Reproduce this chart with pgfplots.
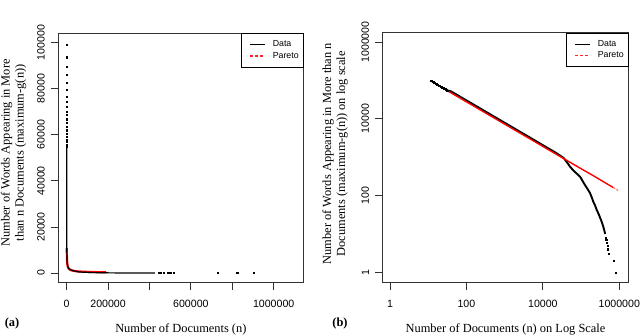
\documentclass[border=0pt]{standalone}
\usepackage{fontspec}
\setmainfont{Liberation Serif}
\setsansfont{Liberation Sans}
\usepackage{pgfplots}
\usepackage{pgfplotstable}
\pgfplotsset{compat=1.18}

% words appearing in more than n documents: first few n as separate dots
\pgfplotstableread{
n y
12 99000
13 93700
14 89600
15 86000
16 82600
17 79500
18 76600
19 74400
20 72200
21 70000
22 68600
23 66800
24 65100
25 63500
26 62000
27 60600
28 59300
29 58050
30 56900
31 55800
32 54700
}\headtbl

% dense part of the data, drawn as a line
\pgfplotstableread{
n y
32 54700
40 51380
50 45110
70 37080
100 30110
150 23790
200 20110
300 15880
500 11780
700 9690
1000 7870
1500 6210
2000 5250
3000 4150
5000 3080
7000 2530
10000 2050
15000 1620
20000 1370
28000 1110
35480 940
44670 692
51290 566
63100 447
79430 363
94190 309
109600 240
125900 189
147900 148
172200 115
190500 89
208900 69
234400 54
257000 42
288400 33
316200 26
350800 20
384600 15
407400 12
426600 10
}\bodytbl

% last isolated points
\pgfplotstableread{
n y
442600 8
455000 7
469900 6
488700 5
500000 4
518800 3
731000 2
824000 1
}\tailtbl

% Pareto fit
\pgfplotstableread{
n y
12 94710
20 70390
50 41330
100 27630
200 18470
500 10850
1000 7252
2000 4848
5000 2847
10000 1903
20000 1272
50000 747
100000 499
200000 337
500000 196
700000 161
}\paretotbl

\pgfplotstableread{
n y
700000 161
950000 135
}\paretoend

\pgfplotstableread{
n y
500 10850
700 8924
1000 7252
1500 5731
2000 4848
3000 3831
5000 2847
7000 2342
10000 1903
15000 1504
20000 1272
30000 1005
50000 747
70000 614
100000 499
150000 395
190000 344
}\paretolin

\definecolor{keyred}{RGB}{255,40,40}

\pgfplotsset{
  rplot/.style={
    scale only axis,
    anchor=south west,
    axis line style={draw=black!80, line width=0.9pt},
    tick align=outside,
    major tick length=7pt,
    xtick pos=bottom, ytick pos=left,
    xminorticks=false, yminorticks=false,
    tick style={black!80, line width=0.9pt},
    tick label style={font=\sffamily\fontsize{10.6}{12}\selectfont, /pgf/number format/assume math mode=true},
    xticklabel shift=6.7pt,
    yticklabel shift=2.7pt,
    yticklabel style={rotate=90, anchor=south},
    label style={font=\fontsize{12.4}{14}\selectfont},
    ylabel style={align=center, anchor=center},
    xlabel style={anchor=center},
    scaled ticks=false,
    legend cell align=left,
    legend style={at={(rel axis cs:1,1)}, anchor=north east, draw=black, line width=1pt,
      fill=white, font=\sffamily\fontsize{8.8}{10}\selectfont,
      inner xsep=3.5pt, inner ysep=6.4pt, row sep=1.7pt, column sep=6.3pt,
      nodes={inner sep=1pt}},
  },
  datakey/.style={legend image code/.code={\path (-4.5pt,0pt);
      \pgfsetstrokecolor{black}\pgfsetlinewidth{0.9pt}\pgfsetdash{}{0pt}%
      \pgfpathmoveto{\pgfpoint{0pt}{0pt}}\pgfpathlineto{\pgfpoint{15pt}{0pt}}%
      \pgfusepath{stroke}}},
  paretokey/.style={legend image code/.code={\path (-4.5pt,0pt);
      \pgfsetstrokecolor{keyred}\pgfsetlinewidth{1.3pt}\pgfsetdash{{3pt}{2pt}}{0pt}%
      \pgfpathmoveto{\pgfpoint{0pt}{0pt}}\pgfpathlineto{\pgfpoint{15pt}{0pt}}%
      \pgfusepath{stroke}}},
  dots/.style={only marks, mark=square*, mark size=0.6pt, black, forget plot},
}

\begin{document}
\begin{tikzpicture}
\useasboundingbox (0,0) rectangle (640pt,335pt);

\begin{axis}[
    rplot,
    at={(58pt,52.3pt)},
    width=245.7pt, height=249.7pt,
    xmin=-42000, xmax=1145000,
    ymin=-4200, ymax=104200,
    xtick={0,200000,400000,600000,800000,1000000},
    xticklabels={0,200000,{},600000,{},1000000},
    ytick={0,20000,40000,60000,80000,100000},
    yticklabels={0,20000,40000,60000,80000,100000},
    xlabel={Number of Documents (n)},
    ylabel={Number of Words Appearing in More\\than n Documents (maximum-g(n))},
    xlabel style={at={(axis description cs:0.5,-0.1866)}},
    ylabel style={at={(axis description cs:-0.181,0.52)}},
]
\addlegendimage{datakey}
\addlegendentry{Data}
\addlegendimage{paretokey}
\addlegendentry{Pareto}
\addplot[red, line width=2.2pt, forget plot] table[x=n, y=y] {\paretolin};
\addplot[dots] table[x=n, y=y] {\headtbl};
\addplot[black, line width=1.2pt, line join=round, forget plot] table[x=n, y=y] {\bodytbl};
\addplot[dots] table[x=n, y=y] {\tailtbl};
\addplot[dots] coordinates {(905000,0)};
\end{axis}

\begin{axis}[
    rplot,
    at={(382.3pt,52.3pt)},
    width=246.4pt, height=250pt,
    xmode=log, ymode=log,
    xmin=0.629, xmax=1762000,
    ymin=0.536, ymax=1746000,
    xtick={1,100,10000,1000000},
    xticklabels={1,100,10000,1000000},
    ytick={1,100,10000,1000000},
    yticklabels={1,100,10000,1000000},
    xlabel={Number of Documents (n) on Log Scale},
    ylabel={Number of Words Appearing in More than n\\Documents (maximum-g(n)) on log scale},
    xlabel style={at={(axis description cs:0.5,-0.1864)}},
    ylabel style={at={(axis description cs:-0.192,0.516)}},
]
\addlegendimage{datakey}
\addlegendentry{Data}
\addlegendimage{paretokey}
\addlegendentry{Pareto}
\addplot[dots] table[x=n, y=y] {\headtbl};
\addplot[black, line width=1.9pt, line join=round, forget plot] table[x=n, y=y] {\bodytbl};
\addplot[dots] table[x=n, y=y] {\tailtbl};
\addplot[red, line width=1.4pt, forget plot] table[x=n, y=y] {\paretotbl};
\addplot[red!55, line width=1.2pt, dash pattern=on 2pt off 1.5pt, forget plot] table[x=n, y=y] {\paretoend};
\end{axis}

\node[font=\bfseries\fontsize{12.4}{14}\selectfont] at (12pt,11.7pt) {(a)};
\node[font=\bfseries\fontsize{12.4}{14}\selectfont] at (340pt,11.7pt) {(b)};
\end{tikzpicture}
\end{document}
